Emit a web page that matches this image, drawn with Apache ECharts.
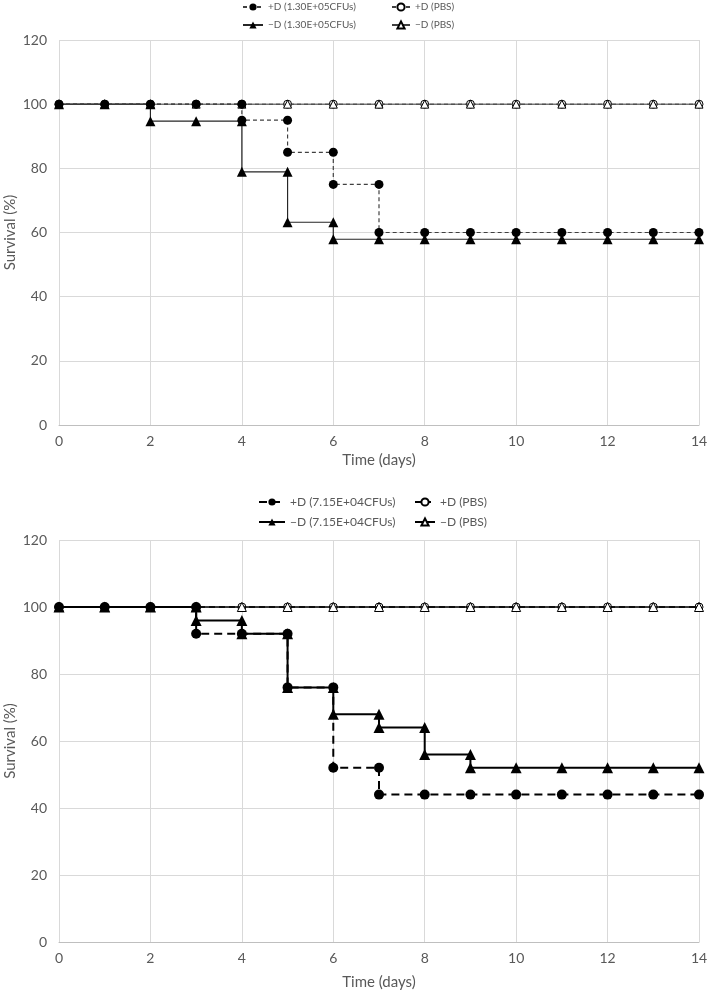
<!DOCTYPE html>
<html>
<head>
<meta charset="utf-8">
<script src="https://cdn.jsdelivr.net/npm/echarts@6/dist/echarts.min.js"></script>
<style>
  html, body { margin: 0; padding: 0; background: #fff; }
  #chart { width: 709px; height: 994px; }
</style>
</head>
<body>
<div id="chart"></div>
<script>
// ---- Data (top panel: 1.30E+05 CFUs) ----
const topNames = ['+D (1.30E+05CFUs)', '+D (PBS)', '\u2212D (1.30E+05CFUs)', '\u2212D (PBS)'];
const topPlusCFU = [[0,100],[1,100],[2,100],[3,100],[4,100],[4,95],[5,95],[5,85],[6,85],[6,75],[7,75],[7,60],[8,60],[9,60],[10,60],[11,60],[12,60],[13,60],[14,60]];
const topMinusCFU = [[0,100],[1,100],[2,100],[2,94.7],[3,94.7],[4,94.7],[4,78.9],[5,78.9],[5,63.2],[6,63.2],[6,57.9],[7,57.9],[8,57.9],[9,57.9],[10,57.9],[11,57.9],[12,57.9],[13,57.9],[14,57.9]];
const topPlusPBS = [[0,100],[1,100],[2,100],[3,100],[4,100],[5,100],[6,100],[7,100],[8,100],[9,100],[10,100],[11,100],[12,100],[13,100],[14,100]];
const topMinusPBS = [[0,100],[1,100],[2,100],[3,100],[4,100],[5,100],[6,100],[7,100],[8,100],[9,100],[10,100],[11,100],[12,100],[13,100],[14,100]];

// ---- Data (bottom panel: 7.15E+04 CFUs) ----
const botNames = ['+D (7.15E+04CFUs)', '+D (PBS) ', '\u2212D (7.15E+04CFUs)', '\u2212D (PBS) '];
const botPlusCFU = [[0,100],[1,100],[2,100],[3,100],[3,92],[4,92],[5,92],[5,76],[6,76],[6,52],[7,52],[7,44],[8,44],[9,44],[10,44],[11,44],[12,44],[13,44],[14,44]];
const botMinusCFU = [[0,100],[1,100],[2,100],[3,100],[3,96],[4,96],[4,92],[5,92],[5,76],[6,76],[6,68],[7,68],[7,64],[8,64],[8,56],[9,56],[9,52],[10,52],[11,52],[12,52],[13,52],[14,52]];
const botPlusPBS = [[0,100],[1,100],[2,100],[3,100],[4,100],[5,100],[6,100],[7,100],[8,100],[9,100],[10,100],[11,100],[12,100],[13,100],[14,100]];
const botMinusPBS = [[0,100],[1,100],[2,100],[3,100],[4,100],[5,100],[6,100],[7,100],[8,100],[9,100],[10,100],[11,100],[12,100],[13,100],[14,100]];

// ---- Axis ----
const xMin = 0, xMax = 14, xStep = 2;
const yMin = 0, yMax = 120, yStep = 20;
const xTitle = 'Time (days)';
const yTitle = 'Survival (%)';

const FONT = 'Lato, "Open Sans", sans-serif';
const TXT = '#595959';

function xAxis(gi, labelMargin, nameGap) {
  return {
    type: 'value', gridIndex: gi, min: xMin, max: xMax, interval: xStep,
    name: xTitle, nameLocation: 'middle', nameGap: nameGap, nameMoveOverlap: false,
    nameTextStyle: { color: TXT, fontSize: 15, fontFamily: FONT },
    axisLine: { show: true, lineStyle: { color: '#bfbfbf', width: 1 } },
    axisTick: { show: false },
    axisLabel: { color: TXT, fontSize: 14, fontFamily: FONT, margin: labelMargin },
    splitLine: { show: true, lineStyle: { color: '#d9d9d9', width: 1 } }
  };
}
function yAxis(gi) {
  return {
    type: 'value', gridIndex: gi, min: yMin, max: yMax, interval: yStep,
    name: yTitle, nameLocation: 'middle', nameGap: 41, nameMoveOverlap: false,
    nameTextStyle: { color: TXT, fontSize: 15, fontFamily: FONT },
    axisLine: { show: false }, axisTick: { show: false },
    axisLabel: { color: TXT, fontSize: 14, fontFamily: FONT, margin: 12 },
    splitLine: { show: true, lineStyle: { color: '#d9d9d9', width: 1 } }
  };
}

function mkSeries(name, data, gi, opts) {
  return {
    name: name, type: 'line', xAxisIndex: gi, yAxisIndex: gi, data: data,
    symbol: opts.symbol, symbolSize: opts.size,
    showAllSymbol: true,
    lineStyle: { color: opts.lineColor, width: opts.width, type: opts.dash },
    itemStyle: { color: opts.fill, borderColor: '#000', borderWidth: opts.border },
    z: opts.z, silent: true
  };
}

function legendItem(name, left, top, fs, iw) {
  return {
    data: [name], left: left, top: top, orient: 'horizontal',
    itemWidth: iw, itemHeight: 9, itemGap: 5, padding: 0,
    textStyle: { color: TXT, fontSize: fs, fontFamily: FONT },
    selectedMode: false
  };
}

const series = [
  // top
  mkSeries(topNames[1], topPlusPBS, 0, { symbol: 'circle', size: 8, lineColor: '#404040', width: 1, dash: [4, 3], fill: '#fff', border: 1, z: 2 }),
  mkSeries(topNames[3], topMinusPBS, 0, { symbol: 'triangle', size: 8, lineColor: '#404040', width: 1, dash: 'solid', fill: '#fff', border: 1, z: 3 }),
  mkSeries(topNames[2], topMinusCFU, 0, { symbol: 'triangle', size: 10, lineColor: '#262626', width: 1.2, dash: 'solid', fill: '#000', border: 0, z: 4 }),
  mkSeries(topNames[0], topPlusCFU, 0, { symbol: 'circle', size: 9, lineColor: '#404040', width: 1.2, dash: [4, 3], fill: '#000', border: 0, z: 5 }),
  // bottom
  mkSeries(botNames[1], botPlusPBS, 1, { symbol: 'circle', size: 8, lineColor: '#000', width: 1.5, dash: [6, 4], fill: '#fff', border: 1, z: 2 }),
  mkSeries(botNames[3], botMinusPBS, 1, { symbol: 'triangle', size: 9, lineColor: '#000', width: 1.5, dash: 'solid', fill: '#fff', border: 1, z: 3 }),
  mkSeries(botNames[2], botMinusCFU, 1, { symbol: 'triangle', size: 11, lineColor: '#000', width: 2, dash: 'solid', fill: '#000', border: 0, z: 4 }),
  mkSeries(botNames[0], botPlusCFU, 1, { symbol: 'circle', size: 10, lineColor: '#000', width: 2, dash: [8, 5], fill: '#000', border: 0, z: 5 })
];

const option = {
  animation: false,
  backgroundColor: '#fff',
  grid: [
    { left: 59, right: 10, top: 40, height: 385, containLabel: false, outerBoundsMode: 'none' },
    { left: 59, right: 10, top: 540, height: 402, containLabel: false, outerBoundsMode: 'none' }
  ],
  xAxis: [xAxis(0, 9, 28), xAxis(1, 9, 33)],
  yAxis: [yAxis(0), yAxis(1)],
  legend: [
    legendItem(topNames[0], 242, 2, 10, 20),
    legendItem(topNames[1], 391, 2, 10, 18),
    legendItem(topNames[2], 242, 20, 10, 20),
    legendItem(topNames[3], 391, 20, 10, 18),
    legendItem(botNames[0], 258, 496, 12, 26),
    legendItem(botNames[1], 414, 496, 12, 20),
    legendItem(botNames[2], 258, 516, 12, 26),
    legendItem(botNames[3], 414, 516, 12, 20)
  ],
  series: series
};

const chart = echarts.init(document.getElementById('chart'), null, { renderer: 'canvas' });
chart.setOption(option);
</script>
</body>
</html>
